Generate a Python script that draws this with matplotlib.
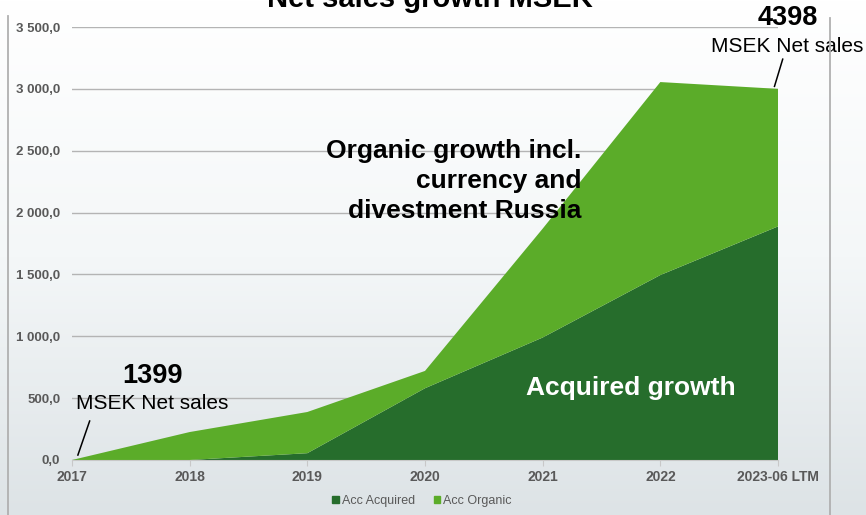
import numpy as np
import matplotlib.pyplot as plt
from matplotlib.colors import LinearSegmentedColormap
from matplotlib.lines import Line2D
from matplotlib.patches import Rectangle

plt.rcParams['font.family'] = ['Liberation Sans', 'DejaVu Sans']

# Accumulated net sales growth (MSEK) since 2017
categories = ["2017", "2018", "2019", "2020", "2021", "2022", "2023-06 LTM"]
acc_acquired = [0, 0, 55, 580, 990, 1495, 1888]
acc_organic = [0, 226, 333, 140, 880, 1560, 1112]
y_ticks = [0, 500, 1000, 1500, 2000, 2500, 3000, 3500]

start_sales = 1399
end_sales = 4398

dark_green = "#266d2c"
light_green = "#5bac29"
tick_grey = "#595959"

W, H, DPI = 866, 515, 100
fig = plt.figure(figsize=(W / DPI, H / DPI), dpi=DPI)

# vertical background gradient
bg = fig.add_axes([0, 0, 1, 1], zorder=-10)
grad = np.linspace(0, 1, 256).reshape(-1, 1)
cmap = LinearSegmentedColormap.from_list("bg", ["#dde3e6", "#f4f7f8", "#ffffff"])
bg.imshow(grad, aspect="auto", cmap=cmap, origin="lower", extent=[0, 1, 0, 1])
bg.set_axis_off()

# plot area in pixel coordinates
x0, x1 = 72, 778
y_top, y_bot = 27, 460
ax = fig.add_axes([x0 / W, 1 - y_bot / H, (x1 - x0) / W, (y_bot - y_top) / H])
ax.patch.set_alpha(0)

x = np.arange(len(categories))
ax.stackplot(x, acc_acquired, acc_organic, colors=[dark_green, light_green],
             labels=["Acc Acquired", "Acc Organic"], zorder=2)

ax.set_xlim(0, len(categories) - 1)
ax.set_ylim(0, 3500)
ax.set_yticks(y_ticks)
ax.set_yticklabels([f"{v:,.1f}".replace(",", " ").replace(".", ",") for v in y_ticks])
ax.set_xticks(x)
ax.set_xticklabels(categories)
ax.grid(axis="y", color="#b4b4b4", linewidth=1.0, zorder=1)
ax.set_axisbelow(True)
for s in ["top", "right", "left"]:
    ax.spines[s].set_visible(False)
ax.spines["bottom"].set_color("#c8c8c8")
ax.spines["bottom"].set_zorder(3)
ax.tick_params(axis="y", length=0, pad=8.5, labelsize=9.5, labelcolor=tick_grey)
ax.tick_params(axis="x", length=4, color="#c8c8c8", pad=3, labelsize=10, labelcolor=tick_grey)
for lbl in ax.get_xticklabels() + ax.get_yticklabels():
    lbl.set_fontweight("bold")

# text overlays
ax.text(0.68, 680, str(start_sales), ha="center", va="center", fontsize=19.5, fontweight="bold")
ax.text(0.68, 455, "MSEK Net sales", ha="center", va="center", fontsize=15)
ax.add_line(Line2D([0.15, 0.05], [315, 40], color="black", linewidth=1.1, clip_on=False))

ax.text(6.08, 3575, str(end_sales), ha="center", va="center", fontsize=19.5, fontweight="bold", clip_on=False)
ax.text(6.08, 3345, "MSEK Net sales", ha="center", va="center", fontsize=15, clip_on=False)
ax.add_line(Line2D([6.04, 5.97], [3240, 3020], color="black", linewidth=1.1, clip_on=False))

ax.text(4.33, 2255, "Organic growth incl.\ncurrency and\ndivestment Russia", ha="right", va="center",
        fontsize=19, fontweight="bold", linespacing=1.3, zorder=5)
ax.text(4.75, 580, "Acquired growth", ha="center", va="center", fontsize=19,
        fontweight="bold", color="white", zorder=5)

# legend
handles = [Rectangle((0, 0), 1, 1, color=dark_green), Rectangle((0, 0), 1, 1, color=light_green)]
fig.legend(handles, ["Acc Acquired", "Acc Organic"], loc="center", bbox_to_anchor=(422 / W, 1 - 501 / H),
           ncol=2, frameon=False, fontsize=9, labelcolor=tick_grey, handlelength=0.5, handleheight=0.5,
           handletextpad=0.25, columnspacing=1.5)

# title (partly above the canvas edge)
fig.text(430 / W, 1 + 1 / H, "Net sales growth MSEK", ha="center", va="center", fontsize=21, fontweight="bold")

# side frame lines
fig.add_artist(Line2D([8 / W, 8 / W], [0, 1 - 16 / H], transform=fig.transFigure, color="#b0b0b0", linewidth=1.3))
fig.add_artist(Line2D([830 / W, 830 / W], [0, 1 - 18 / H], transform=fig.transFigure, color="#b0b0b0", linewidth=1.3))

fig.savefig("out.png", dpi=DPI)
